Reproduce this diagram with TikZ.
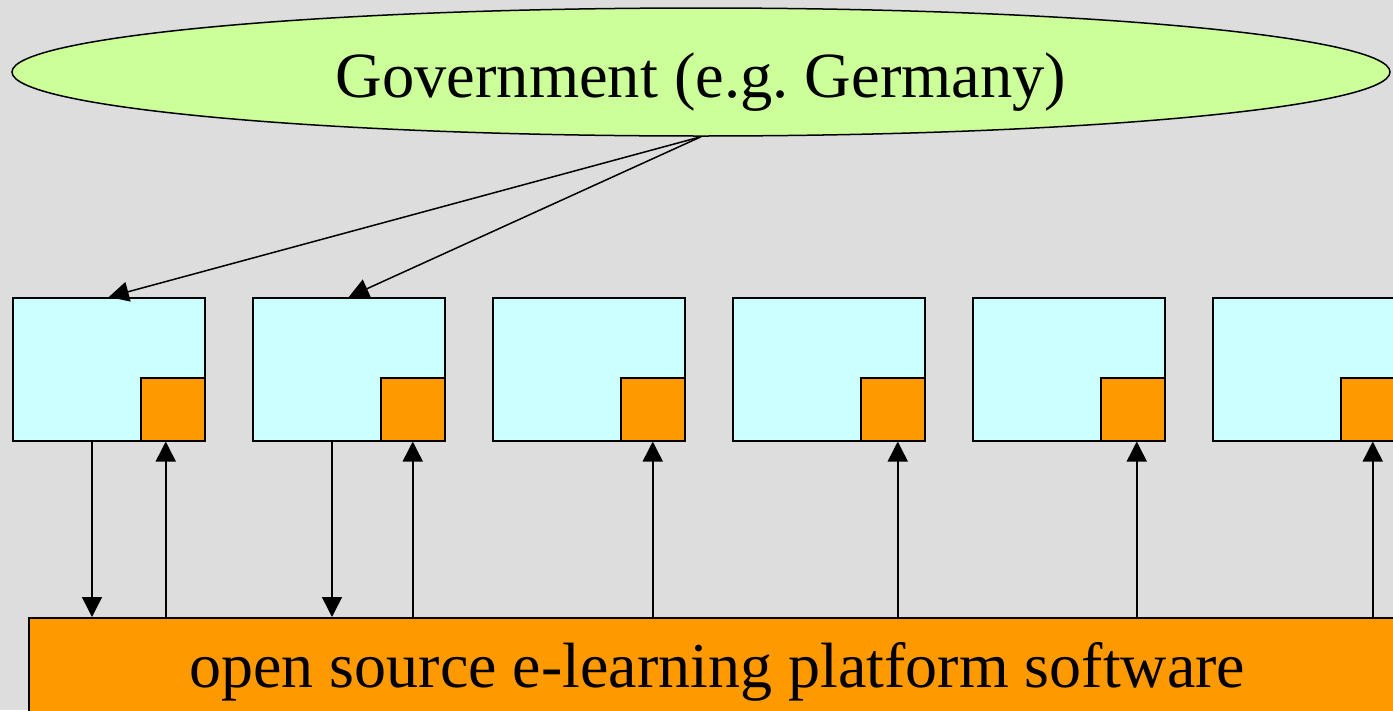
\documentclass[tikz,border=0pt]{standalone}
\usepackage{fontspec}
\setmainfont{Liberation Serif}
\newfontfamily\tnr{Liberation Serif}
\usetikzlibrary{shapes.geometric,arrows.meta}
\definecolor{bg}{HTML}{DDDDDD}
\definecolor{govfill}{HTML}{CCFF99}
\definecolor{boxfill}{HTML}{CCFFFF}
\definecolor{orng}{HTML}{FF9900}
\frenchspacing
\begin{document}
\begin{tikzpicture}[x=1pt,y=-1pt,line width=1.5pt,
  inst/.style={draw,fill=boxfill,minimum width=192pt,minimum height=143pt,inner sep=0pt,anchor=north west},
  sq/.style={draw,fill=orng,minimum width=64pt,minimum height=63pt,inner sep=0pt,anchor=south east},
  arr/.style={-{Triangle[length=20pt,width=20pt]},line width=1.5pt}]
\fill[bg] (0,0) rectangle (1393,710);
\useasboundingbox (0,0) rectangle (1393,710);
\clip (0,0) rectangle (1393,710);
\node[draw,ellipse,fill=govfill,minimum width=1378pt,minimum height=128pt,inner sep=0pt,
  text height=50pt,text depth=0pt,font=\tnr\fontsize{64.5}{70}\selectfont] (gov) at (701,72) {Government (e.g.\ Germany)};
\foreach \i/\x in {1/12,2/252,3/492,4/732,5/972,6/1212}{
  \node[inst] (b\i) at (\x,297) {};
  \node[sq] (s\i) at (b\i.south east) {};
}
\node[draw,fill=orng,minimum width=1377pt,minimum height=110pt,inner sep=0pt,anchor=north west,
  text height=44pt,text depth=14pt,font=\tnr\fontsize{64}{70}\selectfont] (bar) at (28,617) {open source e-learning platform software};
\draw[arr] (gov.south) -- (b1.north);
\draw[arr] (gov.south) -- (b2.north);
\draw[arr] ([xshift=80pt]b1.south west) -- ([xshift=80pt]b1.south west |- bar.north);
\draw[arr] ([xshift=80pt]b2.south west) -- ([xshift=80pt]b2.south west |- bar.north);
\foreach \i/\d in {1/-7,2/0,3/0,4/5,5/4,6/0}{
  \draw[arr] ([xshift=\d pt]s\i.south |- bar.north) -- ([xshift=\d pt]s\i.south);
}
\end{tikzpicture}
\end{document}
